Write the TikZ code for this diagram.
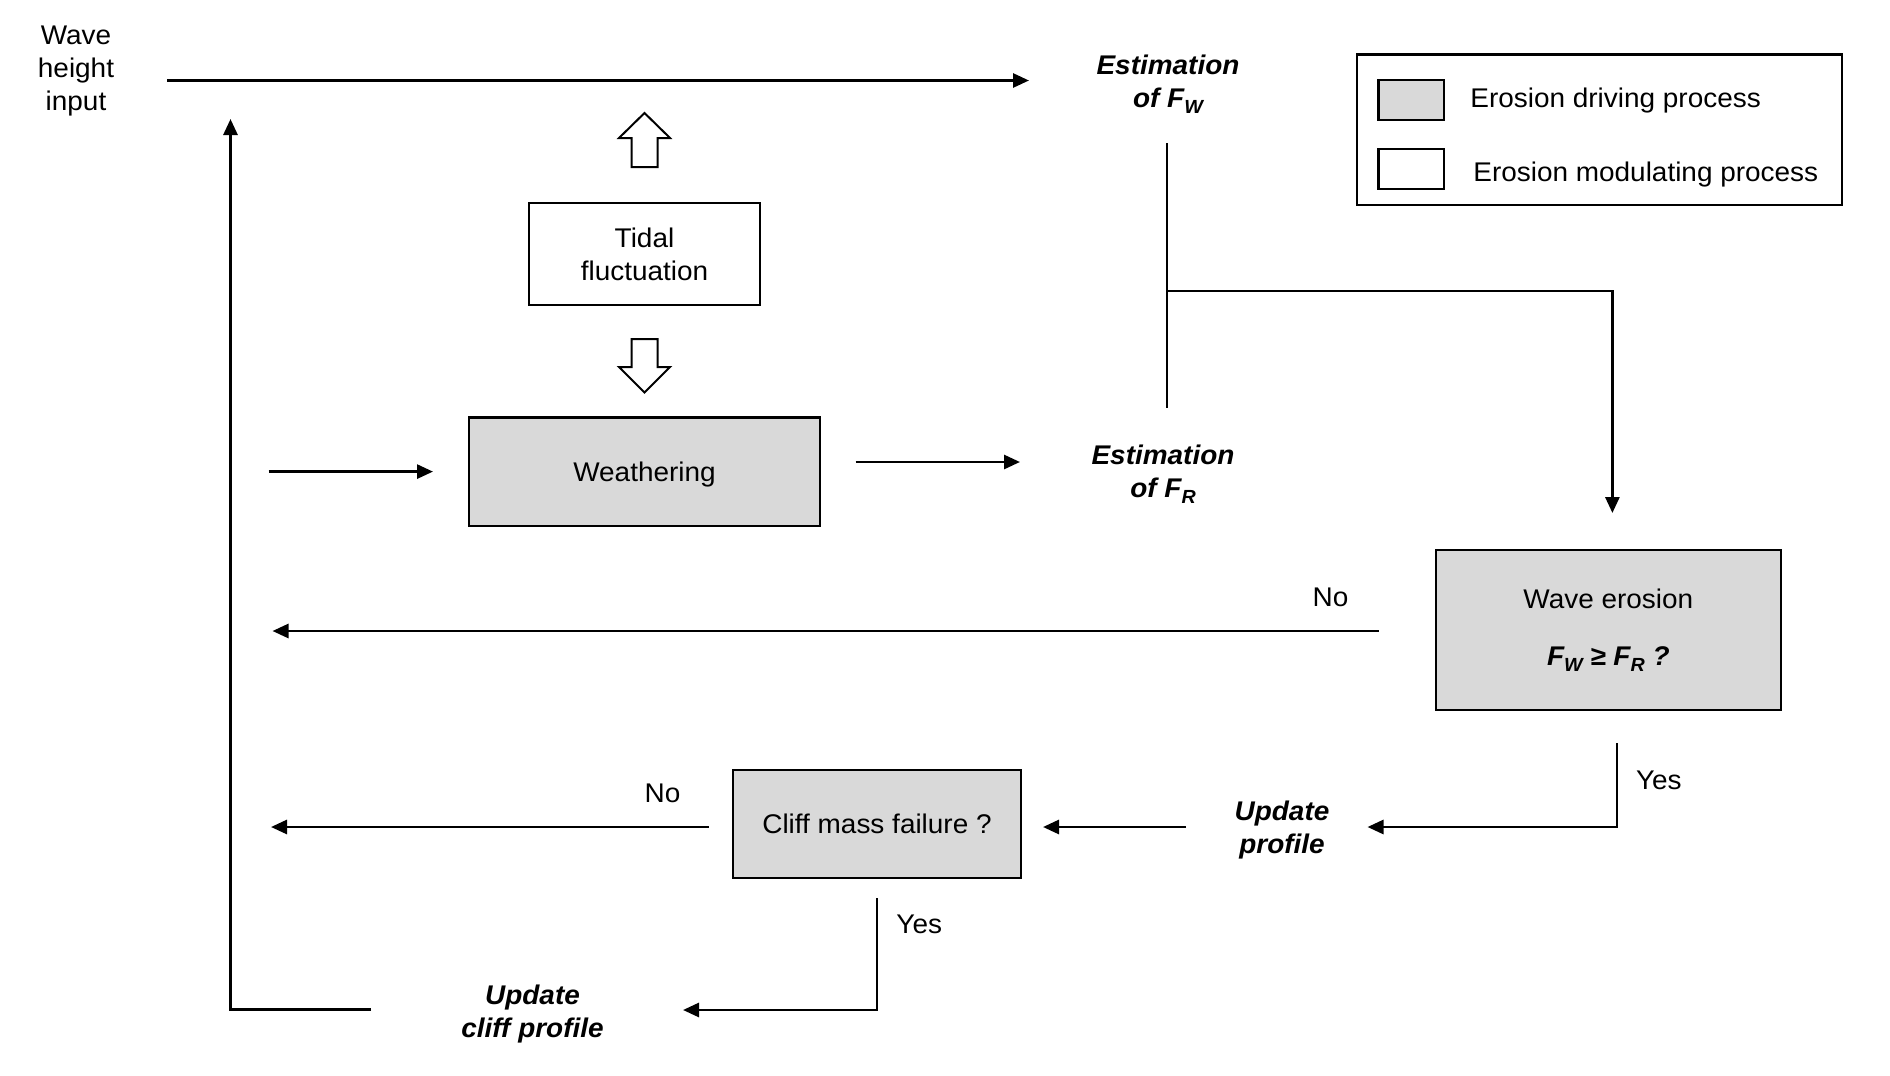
\documentclass[tikz,border=0pt]{standalone}
\usepackage{fontspec}
\setmainfont[FakeStretch=1.035]{Liberation Sans}
\usetikzlibrary{arrows.meta}
\definecolor{gfill}{HTML}{D9D9D9}
\newcommand\subx[1]{\raisebox{-3pt}{\fontsize{9.5}{10}\selectfont #1}}
\tikzset{
  txt/.style={font=\fontsize{13.5}{16.5}\selectfont, inner sep=0pt},
  est/.style={font=\fontsize{13.5}{16.5}\selectfont\bfseries\itshape, inner sep=0pt, align=center},
  bx/.style={draw, line width=1.1pt, inner sep=0pt, font=\fontsize{13.5}{16.5}\selectfont},
  conn/.style={line width=1.4pt},
  arr/.style={conn, -{Triangle[length=8pt,width=7pt]}},
  hollow/.style={draw, line width=1pt, fill=white, line join=miter}
}
\begin{document}
\begin{tikzpicture}[x=0.5pt,y=-0.5pt]
\useasboundingbox (0,0) rectangle (1890,1076);

% text labels
\node[txt, align=center, anchor=north] (wave) at (76,25.3) {Wave\\height\\input};
\node[est, anchor=north] (fw) at (1168,54.5) {Estimation\\of F\subx{W}};
\node[est, anchor=north] (fr) at (1163,444.7) {Estimation\\of F\subx{R}};
\node[est, anchor=north] (upd) at (1282,800.7) {Update\\profile};
\node[est, anchor=north] (updc) at (532.5,984.3) {Update\\cliff profile};

% boxes
\node[bx, minimum width=115.5pt, minimum height=51pt, align=center] (tidal) at (644.5,254) {Tidal\\fluctuation};
\node[bx, fill=gfill, minimum width=175.5pt, minimum height=54.25pt, text depth=0pt] (weath) at (644.5,471.75) {Weathering};
\node[bx, fill=gfill, minimum width=144pt, minimum height=54pt, text depth=0pt] (cliff) at (877,824) {Cliff mass failure ?};
\node[bx, fill=gfill, minimum width=172.7pt, minimum height=80pt, align=center] (wero) at (1608.3,630)
  {Wave erosion\\[12.25pt]{\bfseries\itshape F\subx{W} ≥ F\subx{R} ?}};

% legend
\node[bx, minimum width=242.5pt, minimum height=75.25pt] (legend) at (1599.5,129.75) {};
\node[bx, fill=gfill, minimum width=32.75pt, minimum height=20pt] (sw1) at (1411.25,100) {};
\node[bx, minimum width=32.75pt, minimum height=20pt] (sw2) at (1411.25,169) {};
\node[txt, anchor=base west] (lg1) at (1470,107) {Erosion driving process};
\node[txt, anchor=base west] (lg2) at (1473,181) {Erosion modulating process};

% yes / no labels
\node[txt, anchor=base] (no1) at (1330.5,606) {No};
\node[txt, anchor=base] (no2) at (662.5,802.6) {No};
\node[txt, anchor=base west] (yes1) at (1635.6,789) {Yes};
\node[txt, anchor=base west] (yes2) at (896,933) {Yes};

% connector end points
\coordinate (topS) at (167,80.5);
\coordinate (topE) at (1029,80.5);
\coordinate (loopS) at (371,1009.5);
\coordinate (loopC) at (230.5,1009.5);
\coordinate (loopE) at (230.5,119);
\coordinate (wInS) at (268.5,471.6);
\coordinate (wInE) at (433,471.6);
\coordinate (wOutS) at (855.5,462);
\coordinate (wOutE) at (1020,462);
\coordinate (vT) at (1167,143);
\coordinate (vB) at (1167,408);
\coordinate (brS) at (1167,291);
\coordinate (brC) at (1612.4,291);
\coordinate (brE) at (1612.4,513);
\coordinate (no1S) at (1378.5,631);
\coordinate (no1E) at (272.5,631);
\coordinate (y1S) at (1617,743);
\coordinate (y1C) at (1617,827);
\coordinate (y1E) at (1367.5,827);
\coordinate (upS) at (1186,827);
\coordinate (upE) at (1043,827);
\coordinate (no2S) at (708.6,827);
\coordinate (no2E) at (271,827);
\coordinate (y2S) at (877,898);
\coordinate (y2C) at (877,1010);
\coordinate (y2E) at (683,1010);

% connectors
\draw[arr] (topS) -- (topE);
\draw[arr] (loopS) -- (loopC) -- (loopE);
\draw[arr] (wInS) -- (wInE);
\draw[arr] (wOutS) -- (wOutE);
\draw[conn] (vT) -- (vB);
\draw[arr] (brS) -- (brC) -- (brE);
\draw[arr] (no1S) -- (no1E);
\draw[arr] (y1S) -- (y1C) -- (y1E);
\draw[arr] (upS) -- (upE);
\draw[arr] (no2S) -- (no2E);
\draw[arr] (y2S) -- (y2C) -- (y2E);

% hollow block arrows around the tidal box
\draw[hollow] (644.5,113) -- (670,138) -- (657.5,138) -- (657.5,167) -- (631.5,167) -- (631.5,138) -- (619,138) -- cycle;
\draw[hollow] (644.5,392.5) -- (670,367) -- (657.5,367) -- (657.5,339) -- (631.5,339) -- (631.5,367) -- (619,367) -- cycle;
\end{tikzpicture}
\end{document}
